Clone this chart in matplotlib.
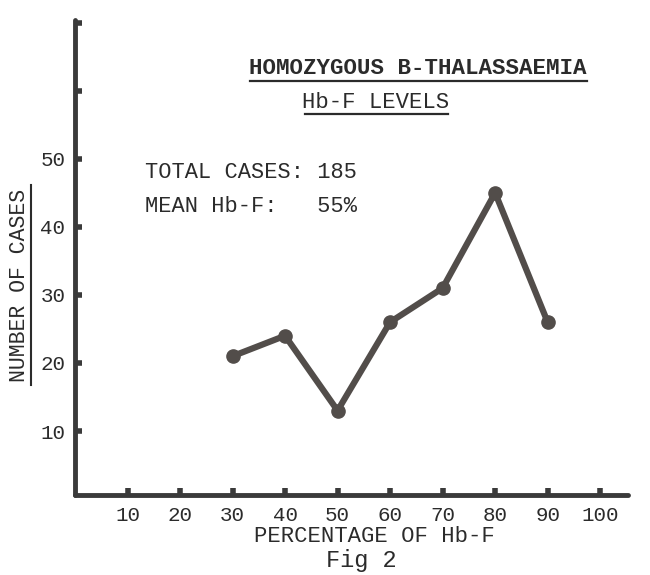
import matplotlib
matplotlib.use("Agg")
import matplotlib.pyplot as plt
from matplotlib.lines import Line2D

hbf_percent = [30, 40, 50, 60, 70, 80, 90]
num_cases = [21, 24, 13, 26, 31, 45, 26]
x_ticks = [10, 20, 30, 40, 50, 60, 70, 80, 90, 100]
y_ticks = [10, 20, 30, 40, 50, 60, 70]
y_tick_labels = ["10", "20", "30", "40", "50", "", ""]
title1 = "HOMOZYGOUS B-THALASSAEMIA"
title2 = "Hb-F LEVELS"
stat1 = "TOTAL CASES: 185"
stat2 = "MEAN Hb-F:   55%"
xlabel = "PERCENTAGE OF Hb-F"
ylabel = "NUMBER OF CASES"
caption = "Fig 2"

W, H = 650, 575
FONT = "Liberation Mono"
TXT = "#2b2b2b"
AX = "#3a3a3a"
LINE = "#524d4a"

fig = plt.figure(figsize=(W / 100, H / 100), dpi=100)
fig.patch.set_facecolor("white")

def fx(px):
    return px / W

def fy(py):
    return 1 - py / H

ax = fig.add_axes([fx(75), fy(495), fx(628) - fx(75), fy(20) - fy(495)])
ax.set_xlim(0, 105.3)
ax.set_ylim(0.6, 70.4)
ax.set_facecolor("white")
for s in ["top", "right"]:
    ax.spines[s].set_visible(False)
for s in ["left", "bottom"]:
    ax.spines[s].set_linewidth(3.5)
    ax.spines[s].set_color(AX)
    ax.spines[s].set_capstyle("round")

ax.set_xticks(x_ticks)
ax.set_xticklabels([str(v) for v in x_ticks], fontfamily=FONT, fontsize=15, color=TXT)
ax.set_yticks(y_ticks)
ax.set_yticklabels(y_tick_labels, fontfamily=FONT, fontsize=15, color=TXT)
ax.tick_params(axis="both", direction="in", length=5, width=4, color=AX)
ax.tick_params(axis="x", pad=8)
ax.tick_params(axis="y", pad=7)

ax.plot(hbf_percent, num_cases, color=LINE, lw=4.5, marker="o", ms=9.5,
        solid_capstyle="round", solid_joinstyle="round", clip_on=False, zorder=3)

# titles with underline
fig.text(fx(418), fy(68), title1, ha="center", va="center", fontfamily=FONT,
         fontsize=16.2, color=TXT, fontweight="bold")
fig.add_artist(Line2D([fx(250), fx(587)], [fy(81), fy(81)], color=TXT, lw=1.6))
fig.text(fx(376), fy(102), title2, ha="center", va="center", fontfamily=FONT,
         fontsize=16, color=TXT)
fig.add_artist(Line2D([fx(305), fx(448)], [fy(114), fy(114)], color=TXT, lw=1.6))

fig.text(fx(145), fy(172), stat1, ha="left", va="center", fontfamily=FONT,
         fontsize=15.8, color=TXT)
fig.text(fx(145), fy(206), stat2, ha="left", va="center", fontfamily=FONT,
         fontsize=15.8, color=TXT)

fig.text(fx(20), fy(285), ylabel, ha="center", va="center", rotation=90,
         fontfamily=FONT, fontsize=15.5, color=TXT)
fig.add_artist(Line2D([fx(31), fx(31)], [fy(385), fy(185)], color=TXT, lw=1.5))

fig.text(fx(374), fy(537), xlabel, ha="center", va="center", fontfamily=FONT,
         fontsize=16, color=TXT)
fig.text(fx(361), fy(560), caption, ha="center", va="center", fontfamily=FONT,
         fontsize=17, color=TXT)

fig.savefig("out.png", dpi=100, facecolor="white")
